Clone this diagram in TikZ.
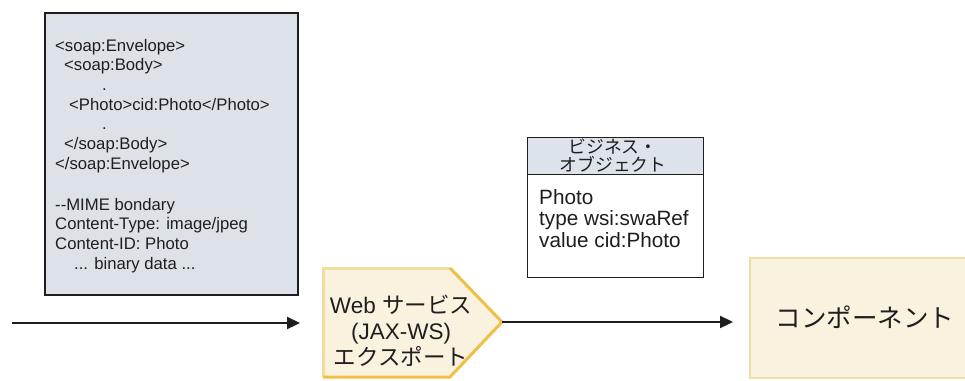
\documentclass[tikz,border=0pt]{standalone}
\usepackage{fontspec}
\setmainfont{Liberation Sans}
\newfontfamily\jp{Noto Sans CJK JP}
\usetikzlibrary{arrows.meta}
\definecolor{graybg}{HTML}{DDE2E9}
\definecolor{hdrbg}{HTML}{DCE3EA}
\definecolor{ylbg}{HTML}{F8F2DF}
\definecolor{ylhi}{HTML}{F4DC9E}
\definecolor{yldk}{HTML}{F0BF45}
\definecolor{cmpbd}{HTML}{F1DEA6}
\definecolor{ink}{HTML}{1E1E1E}
\tikzset{
  codeline/.style={anchor=base west, inner sep=0pt, font=\fontsize{16.7}{19.7}\selectfont, text=ink},
  boline/.style={anchor=base west, inner sep=0pt, font=\fontsize{20.7}{22}\selectfont, text=ink},
  flow/.style={line width=2.3pt, draw=ink, -{Triangle[length=13pt,width=12pt]}},
}
\begin{document}
\begin{tikzpicture}[x=1pt,y=-1pt]
\useasboundingbox (0,0) rectangle (965,380);
% SOAP message box
\draw[fill=graybg, draw=ink, line width=1.3pt] (45,13) rectangle (298,295);
\node[codeline] (l1) at (55,51) {<soap:Envelope>};
\node[codeline] (l2) at (64,70.7) {<soap:Body>};
\node[codeline] (l3) at (102,90.4) {.};
\node[codeline] (l4) at (69,110.1) {<Photo>cid:Photo</Photo>};
\node[codeline] (l5) at (102,129.8) {.};
\node[codeline] (l6) at (64,149.5) {</soap:Body>};
\node[codeline] (l7) at (55,169.2) {</soap:Envelope>};
\node[codeline] (l8) at (55,210) {-{}-MIME bondary};
\node[codeline] (l9) at (55,229.7) {Content-Type: image/jpeg};
\node[codeline] (l10) at (55,249.4) {Content-ID: Photo};
\node[codeline] (l11) at (74,269.1) {... binary data ...};
% business object
\draw[fill=white, draw=ink, line width=1pt] (527,137) rectangle (703,277);
\draw[fill=hdrbg, draw=ink, line width=1pt] (527,137) rectangle (703,174);
\node[inner sep=0pt, font=\jp\fontsize{17.8}{18}\selectfont, text=ink, align=center] (bohdr) at (613,156) {ビジネス・\\オブジェクト};
\node[boline] (b1) at (539,204) {Photo};
\node[boline] (b2) at (539,225.5) {type wsi:swaRef};
\node[boline] (b3) at (539,247) {value cid:Photo};
% web service export (pentagon)
\fill[ylbg] (323,268) -- (450,268) -- (502,322) -- (450,377) -- (323,377) -- cycle;
\draw[ylhi, line width=3pt, line join=miter] (323,377) -- (323,268) -- (450,268);
\draw[yldk, line width=3pt, line join=miter] (450,268) -- (502,322) -- (450,377) -- (323,377);
\coordinate (wstip) at (502,322);
\node[inner sep=0pt, text=ink, align=center, font=\fontsize{22.5}{26}\selectfont] (ws) at (401,331) {Web {\jp サービス}\\(JAX-WS)\\{\jp エクスポート}};
% component
\draw[fill=ylbg, draw=cmpbd, line width=2pt] (750,258) rectangle (975,378);
\node[inner sep=0pt, text=ink, font=\jp\fontsize{25.5}{26}\selectfont] (comp) at (865,317) {コンポーネント};
\coordinate (cmpw) at (750,322);
% connectors
\coordinate (src) at (12,323);
\coordinate (in) at (300,323);
\draw[flow] (src) -- (in);
\draw[flow, shorten >=17pt] (wstip) -- (cmpw);
\end{tikzpicture}
\end{document}
